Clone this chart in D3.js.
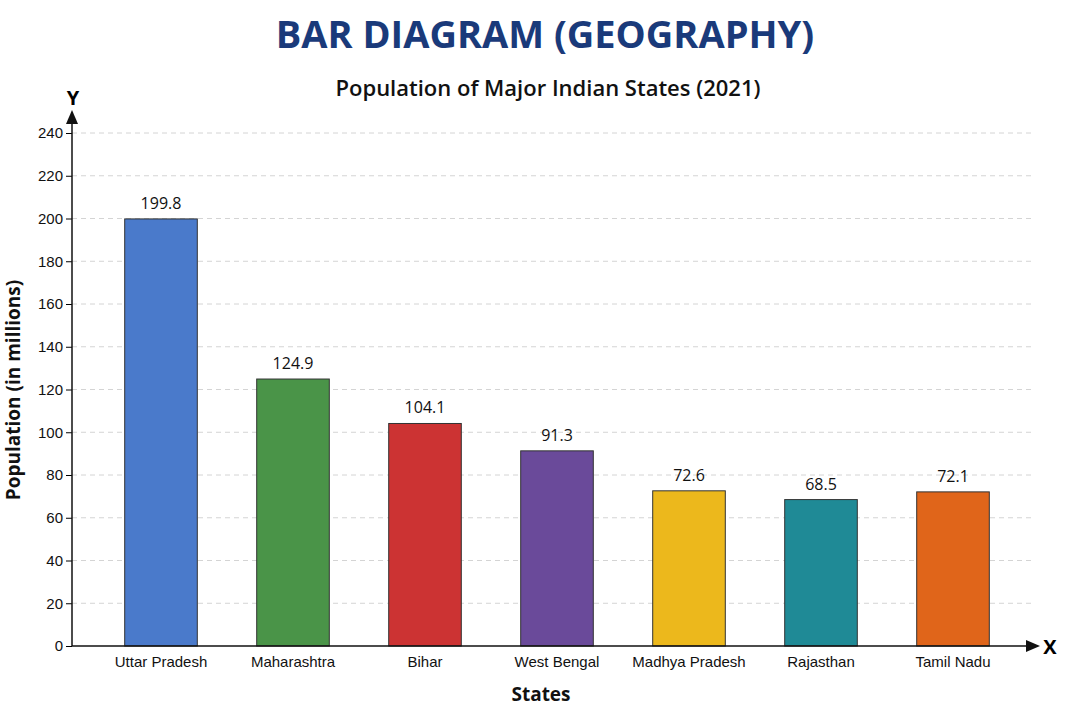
<!DOCTYPE html>
<html>
<head>
<meta charset="utf-8">
<script src="https://d3js.org/d3.v7.min.js"></script>
<style>
body { margin: 0; background: #fff; font-family: "Open Sans", "DejaVu Sans", sans-serif; }
</style>
</head>
<body>
<div id="chart"></div>
<script>
// data
var states = ["Uttar Pradesh", "Maharashtra", "Bihar", "West Bengal", "Madhya Pradesh", "Rajasthan", "Tamil Nadu"];
var population = [199.8, 124.9, 104.1, 91.3, 72.6, 68.5, 72.1];
var colors = ["#4a7acb", "#4a9448", "#cc3333", "#6a4a9a", "#ecb81c", "#1f8a96", "#e0651a"];
var yTicks = [0, 20, 40, 60, 80, 100, 120, 140, 160, 180, 200, 220, 240];

var W = 1075, H = 716;
var svg = d3.select("#chart").append("svg").attr("width", W).attr("height", H);

var x = d3.scaleBand().domain(states).range([95, 1019]).paddingInner(0.45).paddingOuter(0.225);
var y = d3.scaleLinear().domain([0, 240]).range([646, 133]);

// grid
svg.append("g").selectAll("line").data(yTicks.slice(1)).enter().append("line")
  .attr("x1", 72).attr("x2", 1035)
  .attr("y1", function(d) { return y(d); }).attr("y2", function(d) { return y(d); })
  .attr("stroke", "#d4d4d4").attr("stroke-dasharray", "5,4");

// bars
svg.append("g").selectAll("rect").data(states).enter().append("rect")
  .attr("x", function(d) { return x(d); })
  .attr("y", function(d, i) { return y(population[i]); })
  .attr("width", x.bandwidth())
  .attr("height", function(d, i) { return y(0) - y(population[i]); })
  .attr("fill", function(d, i) { return colors[i]; })
  .attr("stroke", "#333").attr("stroke-width", 1);

// value labels
svg.append("g").selectAll("text").data(states).enter().append("text")
  .attr("x", function(d) { return x(d) + x.bandwidth() / 2; })
  .attr("y", function(d, i) { return y(population[i]) - 10; })
  .attr("text-anchor", "middle").attr("font-size", 16).attr("fill", "#111")
  .text(function(d, i) { return population[i]; });

// y axis
var yAxis = svg.append("g").attr("transform", "translate(72,0)")
  .call(d3.axisLeft(y).tickValues(yTicks).tickSize(6).tickSizeOuter(0));
yAxis.select(".domain").remove();
yAxis.selectAll("text").attr("font-size", 15).attr("fill", "#111");
svg.append("line").attr("x1", 72).attr("x2", 72).attr("y1", 646).attr("y2", 120).attr("stroke", "#111").attr("stroke-width", 1.5);
svg.append("path").attr("d", "M72,110 L66,124 L78,124 Z").attr("fill", "#111");
svg.append("text").attr("x", 73).attr("y", 105).attr("text-anchor", "middle").attr("font-size", 20).attr("font-weight", "bold").text("Y");

// x axis
var xAxis = svg.append("g").attr("transform", "translate(0,646)")
  .call(d3.axisBottom(x).tickSize(0).tickPadding(10));
xAxis.select(".domain").remove();
xAxis.selectAll("text").attr("font-size", 15).attr("fill", "#111");
svg.append("line").attr("x1", 72).attr("x2", 1030).attr("y1", 646).attr("y2", 646).attr("stroke", "#111").attr("stroke-width", 1.5);
svg.append("path").attr("d", "M1040,646 L1026,640 L1026,652 Z").attr("fill", "#111");
svg.append("text").attr("x", 1050).attr("y", 654).attr("text-anchor", "middle").attr("font-size", 20).attr("font-weight", "bold").text("X");

// titles
svg.append("text").attr("x", 545).attr("y", 48).attr("text-anchor", "middle")
  .attr("font-size", 38).attr("font-weight", "bold").attr("fill", "#1a3a7a").text("BAR DIAGRAM (GEOGRAPHY)");
svg.append("text").attr("x", 548).attr("y", 96).attr("text-anchor", "middle")
  .attr("font-size", 22).attr("font-weight", 600).attr("fill", "#111").text("Population of Major Indian States (2021)");
svg.append("text").attr("x", 541).attr("y", 701).attr("text-anchor", "middle")
  .attr("font-size", 19).attr("font-weight", "bold").attr("fill", "#111").text("States");
svg.append("text").attr("transform", "translate(20,390) rotate(-90)").attr("text-anchor", "middle")
  .attr("font-size", 19).attr("font-weight", "bold").attr("fill", "#111").text("Population (in millions)");
</script>
</body>
</html>
